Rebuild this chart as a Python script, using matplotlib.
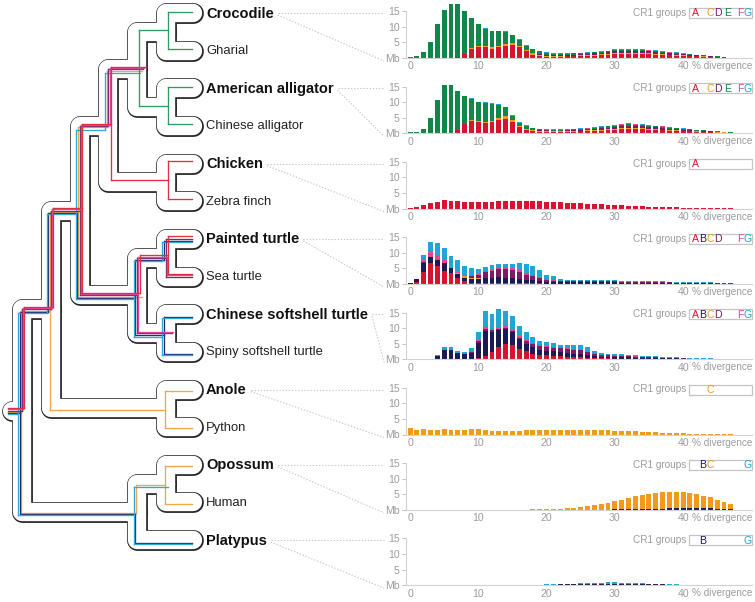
import matplotlib
matplotlib.use('Agg')
import matplotlib.pyplot as plt
from matplotlib.patches import Rectangle
import numpy as np

W, H = 755, 602
NBIN = 48

# ---- tree ----
species = ['Crocodile', 'Gharial', 'American alligator', 'Chinese alligator',
           'Chicken', 'Zebra finch', 'Painted turtle', 'Sea turtle',
           'Chinese softshell turtle', 'Spiny softshell turtle', 'Anole', 'Python',
           'Opossum', 'Human', 'Platypus']
bold = ['Crocodile', 'American alligator', 'Chicken', 'Painted turtle',
        'Chinese softshell turtle', 'Anole', 'Opossum', 'Platypus']

# internal node -> (children, depth)
clades = {
    'croc_ch': (('Crocodile', 'Gharial'), 5),
    'all_ch': (('American alligator', 'Chinese alligator'), 5),
    'crocod': (('croc_ch', 'all_ch'), 4),
    'bird': (('Chicken', 'Zebra finch'), 5),
    'archo': (('crocod', 'bird'), 3),
    'pt': (('Painted turtle', 'Sea turtle'), 5),
    'st': (('Chinese softshell turtle', 'Spiny softshell turtle'), 5),
    'turt': (('pt', 'st'), 4),
    'archelo': (('archo', 'turt'), 2),
    'squam': (('Anole', 'Python'), 5),
    'saur': (('archelo', 'squam'), 1),
    'ther': (('Opossum', 'Human'), 5),
    'mamm': (('ther', 'Platypus'), 4),
    'root': (('saur', 'mamm'), 0),
}

# CR1 lineages running through the species tree (branches they occupy)
lineages = {
    'E': ['croc_ch', 'all_ch', 'Crocodile', 'Gharial', 'American alligator', 'Chinese alligator'],
    'C': ['saur', 'archelo', 'archo', 'crocod', 'turt', 'squam', 'Anole', 'Python',
          'mamm', 'ther', 'Opossum', 'Human'],
    'B': ['saur', 'archelo', 'turt', 'pt', 'Painted turtle', 'st', 'Chinese softshell turtle',
          'Spiny softshell turtle', 'mamm', 'Platypus'],
    'G': ['saur', 'archelo', 'archo', 'crocod', 'turt', 'pt', 'Painted turtle', 'st',
          'Chinese softshell turtle', 'Spiny softshell turtle', 'mamm', 'Platypus', 'ther'],
    'D': ['saur', 'archelo', 'archo', 'crocod', 'turt', 'pt', 'Painted turtle', 'Sea turtle', 'st'],
    'F': ['saur', 'archelo', 'archo', 'crocod', 'turt', 'pt', 'Sea turtle', 'st'],
    'A': ['saur', 'archelo', 'archo', 'crocod', 'bird', 'Chicken', 'Zebra finch', 'turt', 'pt',
          'Painted turtle', 'Sea turtle'],
}
lineage_start = {'E': 'crocod'}
lineage_offset = {'G': 3.6, 'B': 2.4, 'C': 1.2, 'D': 0.0, 'F': -1.2, 'A': -2.4, 'E': -1.5}

groups = ['A', 'B', 'C', 'D', 'E', 'F', 'G']
bar_colors = {'A': '#d8132f', 'B': '#1b1a55', 'C': '#f39a1c', 'D': '#7a1d62',
              'E': '#118649', 'F': '#e2478e', 'G': '#1fa6d7'}
line_colors = {'A': '#e0313f', 'B': '#2b2b72', 'C': '#f2a646', 'D': '#7d2a6d',
               'E': '#2f9b62', 'F': '#d9489b', 'G': '#2aa9da'}
letter_x = {'A': 695.3, 'B': 702.6, 'C': 710.2, 'D': 718.4, 'E': 728, 'F': 740.2, 'G': 747.6}


def seg(start, vals):
    a = np.zeros(NBIN)
    a[start:start + len(vals)] = vals
    return a


# ---- repeat landscapes (Mb per % divergence bin) ----
crocodile = {
    'A': seg(7, [0.2, 1.3, 3.0, 3.6, 3.4, 3.0, 3.4, 4.0, 4.1, 3.5, 2.2, 1.1, 0.6, 0.4, 0.4, 0.4, 0.5, 0.5,
                 0.6, 0.7, 0.8, 0.9, 1.0, 1.2, 1.3, 1.4, 1.4, 1.3, 1.2, 1.1, 1.0, 0.9, 0.8, 0.7, 0.6, 0.5,
                 0.4, 0.3, 0.2, 0.2, 0.1]),
    'C': seg(7, [0.1, 0.1, 0.2, 0.2, 0.3, 0.4, 0.5, 0.6, 0.6, 0.5, 0.4, 0.4, 0.4, 0.4, 0.3, 0.3, 0.3, 0.3,
                 0.3, 0.3, 0.3, 0.3, 0.3, 0.3, 0.3, 0.3, 0.3, 0.3, 0.3, 0.3, 0.2, 0.2, 0.2, 0.2, 0.2, 0.2,
                 0.1, 0.1, 0.1, 0.1]),
    'D': seg(18, [0.1, 0.2, 0.2, 0.2, 0.2, 0.2, 0.3, 0.3, 0.3, 0.4, 0.5, 0.5, 0.6, 0.7, 0.7, 0.7, 0.7, 0.6,
                  0.6, 0.5, 0.4, 0.4, 0.3, 0.3, 0.2, 0.2, 0.2, 0.1, 0.1]),
    'E': seg(0, [0.4, 0.8, 1.8, 5.0, 10.8, 15.3, 17.5, 17.0, 13.7, 9.5, 7.0, 5.7, 5.2, 4.7, 3.9, 2.6, 1.8,
                 1.4, 1.2, 0.9, 0.6, 0.5, 0.5, 0.4, 0.4, 0.3, 0.3, 0.3, 0.3, 0.3, 0.4, 0.4, 0.3, 0.3, 0.3,
                 0.3, 0.2, 0.3, 0.2, 0.2, 0.2, 0.2, 0.1, 0.3, 0.2, 0.1]),
    'F': seg(20, [0.1, 0.1, 0.1, 0.1, 0.1, 0.1, 0.1, 0.1, 0.1, 0.1, 0.1, 0.1, 0.1, 0.1, 0.1, 0.1, 0.1, 0.1,
                  0.1, 0.1]),
    'G': seg(8, [0.1, 0.1, 0.2, 0.2, 0.2, 0.2, 0.2, 0.2, 0.2, 0.2, 0.1, 0.1, 0.1, 0.1, 0.1, 0.1, 0.1, 0.1,
                 0.1, 0.1, 0.2, 0.2, 0.2, 0.2, 0.2, 0.2, 0.2, 0.2, 0.2, 0.1, 0.1, 0.1, 0.1, 0.1, 0.1]),
}
alligator = {
    'A': seg(6, [0.1, 1.1, 3.0, 4.0, 3.6, 3.3, 3.6, 4.2, 4.6, 3.6, 2.0, 1.0, 0.6, 0.4, 0.4, 0.4, 0.4, 0.5,
                 0.5, 0.6, 0.7, 0.8, 0.9, 1.0, 1.2, 1.3, 1.4, 1.4, 1.3, 1.2, 1.1, 1.0, 0.9, 0.8, 0.7, 0.6,
                 0.5, 0.4, 0.3, 0.2, 0.2, 0.1]),
    'C': seg(7, [0.1, 0.1, 0.2, 0.2, 0.3, 0.5, 0.8, 0.9, 0.7, 0.5, 0.4, 0.4, 0.4, 0.4, 0.3, 0.3, 0.3, 0.3,
                 0.3, 0.3, 0.3, 0.3, 0.3, 0.3, 0.3, 0.3, 0.3, 0.3, 0.3, 0.3, 0.2, 0.2, 0.2, 0.2, 0.2, 0.2,
                 0.1, 0.1, 0.1, 0.1]),
    'D': seg(18, [0.1, 0.2, 0.2, 0.2, 0.2, 0.2, 0.3, 0.3, 0.3, 0.4, 0.5, 0.5, 0.6, 0.7, 0.7, 0.7, 0.7, 0.6,
                  0.6, 0.5, 0.4, 0.4, 0.3, 0.3, 0.2, 0.2, 0.2, 0.1, 0.1]),
    'E': seg(0, [0.3, 0.5, 1.5, 5.0, 10.7, 15.5, 15.5, 12.5, 8.8, 6.9, 6.2, 6.2, 5.3, 4.2, 2.8, 1.3, 0.9,
                 1.0, 0.5, 0.4, 0.1, 0.2, 0.2, 0.2, 0.2, 0.2, 0.2, 0.2, 0.2, 0.4, 0.4, 0.5, 0.5, 0.4, 0.4,
                 0.4, 0.2, 0.4, 0.3, 0.2, 0.3, 0.2, 0.2, 0.3, 0.2, 0.2, 0.0, 0.2]),
    'F': seg(20, [0.1, 0.1, 0.1, 0.1, 0.1, 0.1, 0.1, 0.1, 0.1, 0.1, 0.1, 0.1, 0.1, 0.1, 0.1, 0.1, 0.1, 0.1,
                  0.1, 0.1]),
    'G': seg(8, [0.1, 0.1, 0.2, 0.2, 0.2, 0.2, 0.2, 0.2, 0.2, 0.2, 0.1, 0.1, 0.1, 0.1, 0.1, 0.1, 0.1, 0.1,
                 0.1, 0.1, 0.2, 0.2, 0.2, 0.2, 0.2, 0.2, 0.2, 0.2, 0.2, 0.1, 0.1, 0.1, 0.1, 0.1, 0.1]),
}
chicken = {
    'A': seg(0, [0.1, 0.5, 1.2, 1.7, 2.1, 2.7, 2.6, 2.3, 2.0, 2.0, 2.1, 2.2, 2.2, 2.3, 2.4, 2.4, 2.4, 2.4,
                 2.4, 2.3, 2.2, 2.1, 2.0, 1.9, 1.8, 1.7, 1.6, 1.5, 1.4, 1.3, 1.1, 1.0, 0.9, 0.8, 0.7, 0.6,
                 0.5, 0.5, 0.4, 0.4, 0.3, 0.3, 0.2, 0.2, 0.2, 0.1, 0.1, 0.1]),
}
painted_turtle = {
    'A': seg(1, [0.5, 3.7, 6.7, 5.6, 4.3, 3.4, 1.8, 0.8, 0.3, 0.2, 0.2, 0.2, 0.2, 0.2, 0.2, 0.2, 0.2, 0.2,
                 0.2, 0.1, 0.1, 0.1, 0.1, 0.1, 0.1, 0.1, 0.1, 0.1, 0.1, 0.1, 0.1, 0.1, 0.1, 0.1, 0.1]),
    'B': seg(0, [0.2, 1.0, 3.0, 1.8, 2.0, 2.4, 1.6, 1.5, 1.2, 1.4, 1.4, 1.6, 1.8, 2.0, 1.8, 1.6, 1.3, 1.1,
                 1.0, 0.8, 0.6, 0.5, 0.4, 0.4, 0.4, 0.4, 0.4, 0.4, 0.4, 0.4, 0.4, 0.3, 0.3, 0.3, 0.3, 0.3,
                 0.3, 0.3, 0.3, 0.2, 0.2, 0.2, 0.2, 0.2, 0.2, 0.1, 0.1, 0.1]),
    'C': seg(7, [0.2, 0.4, 0.3, 0.2, 0.1]),
    'D': seg(2, [0.2, 0.3, 0, 0, 0, 0, 0.2, 0.5, 1.0, 1.8, 2.3, 2.6, 2.8, 2.6, 2.2, 1.6, 1.2, 0.8, 0.5, 0.4,
                 0.3, 0.3, 0.3, 0.3, 0.3, 0.3, 0.3, 0.3, 0.3, 0.2, 0.2, 0.2, 0.2, 0.2, 0.2, 0.2, 0.2, 0.2,
                 0.2, 0.2, 0.2, 0.1, 0.1, 0.1, 0.1, 0.1]),
    'F': seg(2, [0.9, 1.5, 1.8, 1.0, 0.5, 0.4, 0.3, 0.3, 0.4, 0.5, 0.6, 0.6, 0.7, 0.7, 0.8, 0.7, 0.6, 0.5,
                 0.3, 0.2, 0.2, 0.1, 0.1, 0.1, 0.1, 0.1, 0.1, 0.1, 0.1, 0.1, 0.1, 0.1, 0.1]),
    'G': seg(2, [1.4, 3.2, 3.9, 3.8, 3.4, 3.9, 2.9, 2.2, 1.6, 1.3, 1.1, 0.9, 0.8, 1.2, 2.1, 2.9, 2.7, 2.1,
                 1.5, 1.2, 0.7, 0.4, 0.3, 0.3, 0.3, 0.3, 0.3, 0.3, 0.3, 0.3, 0.3, 0.3, 0.3, 0.3, 0.3, 0.3,
                 0.2, 0.2, 0.2, 0.2, 0.2, 0.2, 0.2, 0.2, 0.1, 0.1]),
}
softshell_turtle = {
    'A': seg(10, [0.3, 1.0, 2.2, 4.0, 5.0, 4.7, 3.4, 2.5, 1.8, 1.4, 1.2, 1.1, 1.0, 0.8, 0.7, 0.6, 0.5, 0.4,
                  0.3, 0.3, 0.2, 0.2, 0.2, 0.1, 0.1, 0.1, 0.1, 0.1, 0.1, 0.1]),
    'B': seg(3, [0.2, 1.0, 2.8, 2.8, 2.0, 1.6, 1.9, 4.9, 8.0, 6.4, 5.4, 4.6, 4.2, 3.0, 2.5, 2.0, 1.6, 1.5,
                 1.4, 1.3, 1.2, 1.1, 1.0, 0.9, 0.6, 0.5, 0.4, 0.4, 0.4, 0.4, 0.3, 0.3, 0.3, 0.3, 0.2, 0.2,
                 0.2, 0.2, 0.1, 0.1, 0.1, 0.1, 0.1, 0.1]),
    'C': seg(12, [0.05, 0.05, 0.05]),
    'D': seg(9, [0.4, 0.6, 0.8, 0.6, 0.3, 0.3, 0.3, 0.5, 0.8, 1.0, 1.1, 1.2, 1.2, 1.2, 1.2, 1.2, 1.2, 1.0,
                 0.7, 0.5, 0.5, 0.5, 0.5, 0.4, 0.4, 0.3, 0.3, 0.3, 0.2, 0.2, 0.2, 0.2, 0.1, 0.1, 0.1, 0.1]),
    'F': seg(8, [0.1, 0.3, 0.4, 0.6, 0.4, 0.5, 0.6, 0.5, 0.6, 0.5, 0.5, 0.4, 0.4, 0.3, 0.3, 0.3, 0.3, 0.3,
                 0.3, 0.2, 0.2, 0.1, 0.1, 0.1, 0.1, 0.1]),
    'G': seg(4, [0.4, 1.2, 1.2, 0.7, 0.6, 0.9, 2.7, 5.0, 5.0, 5.8, 5.1, 4.1, 3.3, 2.3, 1.8, 1.5, 1.3, 1.1,
                 0.9, 1.0, 1.2, 1.4, 1.1, 0.7, 0.5, 0.4, 0.4, 0.4, 0.3, 0.3, 0.3, 0.3, 0.2, 0.2, 0.2, 0.2,
                 0.1, 0.1, 0.1, 0.1, 0.1]),
}
anole = {
    'C': seg(0, [2.0, 1.4, 1.7, 1.5, 1.6, 1.7, 1.6, 1.5, 1.6, 1.7, 1.8, 1.5, 1.2, 1.1, 1.0, 1.1, 1.2, 1.5,
                 1.5, 1.5, 1.5, 1.5, 1.4, 1.4, 1.4, 1.4, 1.4, 1.4, 1.4, 1.4, 1.2, 1.1, 1.0, 1.0, 0.9, 0.8,
                 0.7, 0.6, 0.5, 0.4, 0.4, 0.3, 0.3, 0.2, 0.2, 0.1, 0.1, 0.1]),
}
opossum = {
    'B': seg(30, [0.1, 0.2, 0.2, 0.3, 0.3, 0.4, 0.4, 0.4, 0.5, 0.5, 0.5, 0.5, 0.5, 0.5, 0.5, 0.4, 0.4, 0.4]),
    'C': seg(18, [0.1, 0.1, 0.2, 0.3, 0.4, 0.5, 0.7, 0.9, 1.2, 1.5, 1.9, 2.3, 2.7, 3.1, 3.6, 4.0, 4.5, 4.8,
                  5.1, 5.3, 5.3, 5.3, 5.2, 4.9, 4.5, 4.0, 3.5, 2.9, 2.2, 1.5]),
    'G': seg(36, [0.05, 0.05, 0.05, 0.05, 0.05, 0.05]),
}
platypus = {
    'B': seg(18, [0.05, 0.1, 0.1, 0.15, 0.2, 0.25, 0.3, 0.35, 0.4, 0.45, 0.5, 0.5, 0.5, 0.5, 0.45, 0.4,
                  0.35, 0.3, 0.25, 0.2, 0.15, 0.1, 0.1, 0.05, 0.05, 0.05]),
    'G': seg(18, [0.05, 0.05, 0.1, 0.1, 0.15, 0.15, 0.2, 0.2, 0.25, 0.3, 0.3, 0.35, 0.35, 0.3, 0.3, 0.25,
                  0.2, 0.2, 0.15, 0.1, 0.1, 0.1, 0.05, 0.05, 0.05, 0.05]),
}
landscapes = {'Crocodile': crocodile, 'American alligator': alligator, 'Chicken': chicken,
              'Painted turtle': painted_turtle, 'Chinese softshell turtle': softshell_turtle,
              'Anole': anole, 'Opossum': opossum, 'Platypus': platypus}

# ---- geometry of the tree (pixels) ----
LEAF0, LEAFSTEP = 13, 37.65
X0, XSTEP, TIP = 22, 28.8, 193
Y, X, parent = {}, {}, {}
for i, s in enumerate(species):
    Y[s] = LEAF0 + i * LEAFSTEP
    X[s] = TIP


def place(n):
    if n in Y:
        return Y[n]
    kids, depth = clades[n]
    for k in kids:
        parent[k] = n
    Y[n] = np.mean([place(k) for k in kids])
    X[n] = X0 + XSTEP * depth
    return Y[n]


place('root')

fig = plt.figure(figsize=(W / 100, H / 100), dpi=100)
bg = fig.add_axes([0, 0, 1, 1])
bg.set_xlim(0, W)
bg.set_ylim(H, 0)
bg.axis('off')

paths = [[(12, Y['root']), (X['root'], Y['root'])]]
for n, (kids, depth) in clades.items():
    a, b = kids
    paths.append([(X[a], Y[a]), (X[n], Y[a]), (X[n], Y[b]), (X[b], Y[b])])
for col, lw in [('#262626', 15.0), ('white', 13.2)]:
    for p in paths:
        xs, ys = zip(*p)
        bg.plot(xs, ys, color=col, lw=lw, solid_capstyle='round', solid_joinstyle='round', zorder=1)

# gene lineages inside the tube
for g in ['C', 'B', 'G', 'D', 'F', 'A', 'E']:
    mem = lineages[g]
    o = lineage_offset[g]
    start = lineage_start.get(g, 'root')
    segs = []
    for n in mem:
        if n in clades:
            stub = not any(k in mem for k in clades[n][0])
            xe = X[n] - o + (6 if stub else 0)
        else:
            xe = TIP - 1
        segs.append([(X[parent[n]] - o, Y[n] + o), (xe, Y[n] + o)])
    for n in mem + [start]:
        if n in clades:
            ch = [k for k in clades[n][0] if k in mem]
            if ch:
                ys = [Y[k] for k in ch] + [Y[n]]
                segs.append([(X[n] - o, min(ys) + o), (X[n] - o, max(ys) + o)])
    if start == 'root':
        segs.append([(8, Y['root'] + o), (X['root'] - o, Y['root'] + o)])
    for sgm in segs:
        xs, ys = zip(*sgm)
        bg.plot(xs, ys, color=line_colors[g], lw=0.95, solid_capstyle='projecting', zorder=2)

labels = {}
for s in species:
    if s in bold:
        labels[s] = bg.text(206, Y[s] + 0.5, s, fontsize=10.5, fontweight='bold',
                            family='Liberation Sans', va='center', ha='left', color='#111111')
    else:
        bg.text(206, Y[s] + 0.5, s, fontsize=9.4, family='Liberation Sans',
                va='center', ha='left', color='#222222')

# ---- repeat landscape panels ----
fig.canvas.draw()
rend = fig.canvas.get_renderer()
grey = '#9c9c9c'
xs = np.arange(NBIN)
for s in bold:
    data = landscapes[s]
    ly = Y[s]
    base = ly + 45
    ax = fig.add_axes([406 / W, 1 - base / H, 346 / W, 56 / H])
    ax.set_facecolor('none')
    bottom = np.zeros(NBIN)
    for g in groups:
        if g in data:
            ax.bar(xs, data[g], width=0.72, bottom=bottom, color=bar_colors[g], linewidth=0)
            bottom = bottom + data[g]
    ax.set_xlim(-0.6, 50.1)
    ax.set_ylim(0, 18)
    ax.set_yticks([0, 5, 10, 15])
    ax.set_yticklabels(['Mb', '5', '10', '15'])
    ax.set_xticks([0, 10, 20, 30, 40])
    ax.tick_params(axis='y', length=3, width=0.6, color='#bbbbbb', labelcolor=grey,
                   labelsize=7.6, pad=1.5)
    ax.tick_params(axis='x', length=0, labelcolor=grey, labelsize=7.6, pad=2.5)
    for lab in ax.get_xticklabels() + ax.get_yticklabels():
        lab.set_family('Liberation Sans')
    for side in ['top', 'right']:
        ax.spines[side].set_visible(False)
    for side in ['left', 'bottom']:
        ax.spines[side].set_color('#d2d2d2')
        ax.spines[side].set_linewidth(0.8)
    ax.spines['left'].set_bounds(0, 15)
    bg.text(752, base + 8, '% divergence', fontsize=7.2, color=grey, family='Liberation Sans',
            ha='right', va='center')

    # legend box
    bg.text(686, ly, 'CR1 groups', fontsize=7.2, color=grey, family='Liberation Sans',
            ha='right', va='center')
    bg.add_patch(Rectangle((689, ly - 5), 63, 10, facecolor='white', edgecolor='#c4c4c4', lw=0.9))
    for g in groups:
        if g in data and data[g].sum() > 0:
            bg.text(letter_x[g], ly + 0.5, g, fontsize=7.6, color=bar_colors[g],
                    family='Liberation Sans', ha='center', va='center')

    # dotted connectors from the species name to its panel
    ext = labels[s].get_window_extent(rend)
    x_end = ext.x1 + 4
    kw = dict(color='#c6c6c6', lw=0.8, linestyle=(0, (1.2, 1.6)), zorder=0)
    bg.plot([x_end, 384], [ly, ly], **kw)
    bg.plot([x_end, 384], [ly + 2, base + 3], **kw)

fig.savefig('out.png', dpi=100)
